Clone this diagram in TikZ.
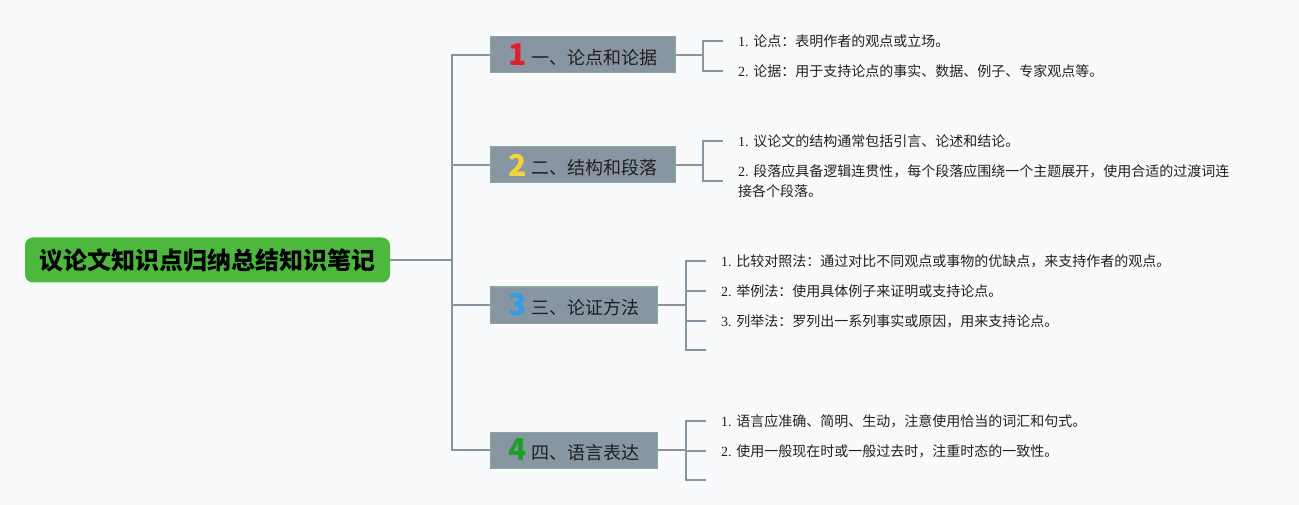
\documentclass[tikz,border=0pt]{standalone}
\usepackage{fontspec}
\setmainfont{Liberation Serif}
\newfontfamily\cjk{Noto Sans CJK SC}
\usepackage{xcolor}
\usepackage{tikz}

\definecolor{bgcol}{HTML}{F9FAFB}
\definecolor{rootgreen}{HTML}{4CB93C}
\definecolor{topicfill}{HTML}{8896A4}
\definecolor{topicedge}{HTML}{86A89E}
\definecolor{linkcol}{HTML}{8794A2}
\definecolor{numred}{HTML}{E0202E}
\definecolor{numyellow}{HTML}{F2D43A}
\definecolor{numblue}{HTML}{2E9FE6}
\definecolor{numgreen}{HTML}{1F9E2C}
\newcommand{\topicnum}[2]{{\cjk\bfseries\fontsize{30}{30}\selectfont\color{#1}#2}\hspace{5pt}}

\begin{document}
\begin{tikzpicture}[x=1pt, y=-1pt,
    root/.style={fill=rootgreen, rounded corners=8pt, minimum width=365pt, minimum height=45pt, font=\cjk\bfseries\fontsize{24}{28}\selectfont},
    topic/.style={draw=topicedge, fill=topicfill, line width=1pt, anchor=west, minimum height=36pt, inner xsep=18pt, inner ysep=0pt, text=black!88, font=\cjk\fontsize{18}{20}\selectfont},
    item/.style={anchor=west, inner xsep=15pt, inner ysep=0pt, align=left, text=black!87, font=\fontsize{14}{20}\selectfont},
    link/.style={draw=linkcol, line width=2pt}]
        \useasboundingbox[fill=bgcol] (0,0) rectangle (1299,505);

        \node[root] (title) at (207.5,260) {议论文知识点归纳总结知识笔记};
        \node[topic] (points) at (490,55) {\topicnum{numred}{1}\raisebox{1.5pt}{一、论点和论据}};
        \node[topic] (struct) at (490,165) {\topicnum{numyellow}{2}\raisebox{1.5pt}{二、结构和段落}};
        \node[topic] (method) at (490,305) {\topicnum{numblue}{3}\raisebox{1.5pt}{三、论证方法}};
        \node[topic] (lang) at (490,450) {\topicnum{numgreen}{4}\raisebox{1.5pt}{四、语言表达}};

        \node[item] (points1) at (723,41) {1. {\cjk 论点：表明作者的观点或立场。}};
        \node[item] (points2) at (723,71) {2. {\cjk 论据：用于支持论点的事实、数据、例子、专家观点等。}};
        \node[item] (struct1) at (723,141) {1. {\cjk 议论文的结构通常包括引言、论述和结论。}};
        \node[item] (struct2) at (723,181) {2. {\cjk 段落应具备逻辑连贯性，每个段落应围绕一个主题展开，使用合适的过渡词连}\\{\cjk 接各个段落。}};
        \node[item] (method1) at (706,261) {1. {\cjk 比较对照法：通过对比不同观点或事物的优缺点，来支持作者的观点。}};
        \node[item] (method2) at (706,291) {2. {\cjk 举例法：使用具体例子来证明或支持论点。}};
        \node[item] (method3) at (706,321) {3. {\cjk 列举法：罗列出一系列事实或原因，用来支持论点。}};
        \coordinate (method4) at (706,350);
        \node[item] (lang1) at (706,421) {1. {\cjk 语言应准确、简明、生动，注意使用恰当的词汇和句式。}};
        \node[item] (lang2) at (706,451) {2. {\cjk 使用一般现在时或一般过去时，注重时态的一致性。}};
        \coordinate (lang3) at (706,480);

        \coordinate (trunk) at (452,260);
        \coordinate (pointsfork) at (703,55);
        \coordinate (structfork) at (703,165);
        \coordinate (methodfork) at (686,305);
        \coordinate (langfork) at (686,450);

        \draw[link] (title) -- (trunk);
        \draw[link] (trunk) |- (points);
        \draw[link] (trunk) |- (struct);
        \draw[link] (trunk) |- (method);
        \draw[link] (trunk) |- (lang);

        \draw[link] (points) -- (pointsfork);
        \draw[link] (pointsfork) |- (points1);
        \draw[link] (pointsfork) |- (points2);
        \draw[link] (struct) -- (structfork);
        \draw[link] (structfork) |- (struct1);
        \draw[link] (structfork) |- (struct2);
        \draw[link] (method) -- (methodfork);
        \draw[link] (methodfork) |- (method1);
        \draw[link] (methodfork) |- (method2);
        \draw[link] (methodfork) |- (method3);
        \draw[link] (methodfork) |- (method4);
        \draw[link] (lang) -- (langfork);
        \draw[link] (langfork) |- (lang1);
        \draw[link] (langfork) |- (lang2);
        \draw[link] (langfork) |- (lang3);
    \end{tikzpicture}
\end{document}
